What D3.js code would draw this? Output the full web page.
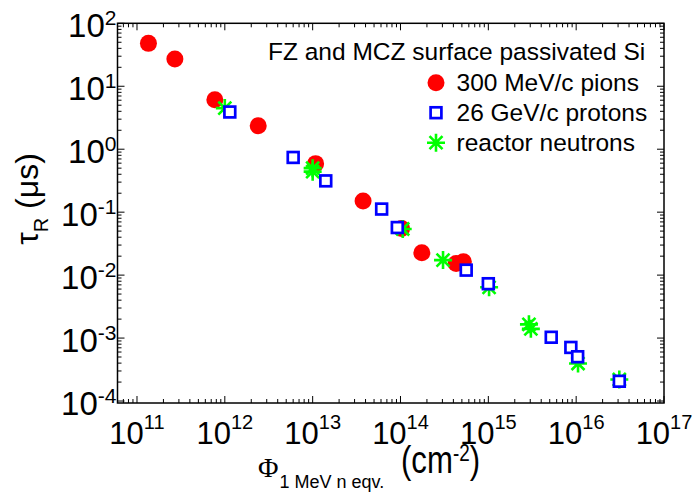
<!DOCTYPE html>
<html>
<head>
<meta charset="utf-8">
<script src="https://cdn.jsdelivr.net/npm/d3@7"></script>
<style>
  html, body { margin: 0; padding: 0; background: #fff; }
  svg { display: block; font-family: "Liberation Sans", Arial, Helvetica, sans-serif; }
</style>
</head>
<body>
<svg id="chart" width="695" height="495"></svg>
<script>
// ---- data ----
const pionsFluence = [1.35e11, 2.7e11, 7.7e11, 2.4e12, 1.08e13, 3.75e13, 1.03e14, 1.75e14, 4.3e14, 5.2e14];
const pionsTau     = [48, 27, 6.1, 2.35, 0.59, 0.151, 0.055, 0.0226, 0.0153, 0.0163];

const protonsFluence = [1.14e12, 6.0e12, 1.41e13, 6.1e13, 9.2e13, 5.6e14, 1.0e15, 5.2e15, 8.7e15, 1.04e16, 3.1e16];
const protonsTau     = [3.9, 0.74, 0.314, 0.112, 0.057, 0.012, 0.0073, 1.03e-3, 7.1e-4, 5.05e-4, 2.06e-4];

const neutronsFluence = [1.0e12, 1.0e13, 1.0e13, 1.06e14, 3.05e14, 1.02e15, 2.9e15, 3.05e15, 1.05e16, 3.1e16];
const neutronsTau     = [4.5, 0.5, 0.44, 0.054, 0.0173, 6.4e-3, 1.65e-3, 1.4e-3, 3.95e-4, 2.2e-4];

const xTickExponents = [11, 12, 13, 14, 15, 16, 17];
const yTickExponents = [-4, -3, -2, -1, 0, 1, 2];
const legendTitle = "FZ and MCZ surface passivated Si";
const legendLabels = ["300 MeV/c pions", "26 GeV/c protons", "reactor neutrons"];

// ---- layout ----
const svg = d3.select("#chart");
const L = 117.5, R = 664, T = 23.3, B = 403;
const x = d3.scaleLog().domain([6e10, 1e17]).range([L, R]);
const y = d3.scaleLog().domain([9.3e-5, 100]).range([B, T]);

const zip = (a, b) => a.map((v, i) => [v, b[i]]);
const pions = zip(pionsFluence, pionsTau);
const protons = zip(protonsFluence, protonsTau);
const neutrons = zip(neutronsFluence, neutronsTau);

// ---- ticks ----
function logTicks(domain) {
  const lo = Math.floor(Math.log10(domain[0])), hi = Math.ceil(Math.log10(domain[1]));
  const major = [], minor = [];
  for (let e = lo; e <= hi; e++) {
    for (let k = 1; k <= 9; k++) {
      const v = k * Math.pow(10, e);
      if (v < domain[0] * 0.999 || v > domain[1] * 1.001) continue;
      (k === 1 ? major : minor).push(v);
    }
  }
  return { major, minor };
}
const xt = logTicks(x.domain()), yt = logTicks(y.domain());
const majLen = 7, minLen = 4;
const tg = svg.append("g").attr("stroke", "#000").attr("stroke-width", 1);
function drawX(vals, len) {
  vals.forEach(v => {
    const px = x(v);
    tg.append("line").attr("x1", px).attr("x2", px).attr("y1", B).attr("y2", B - len);
    tg.append("line").attr("x1", px).attr("x2", px).attr("y1", T).attr("y2", T + len);
  });
}
function drawY(vals, len) {
  vals.forEach(v => {
    const py = y(v);
    tg.append("line").attr("y1", py).attr("y2", py).attr("x1", L).attr("x2", L + len);
    tg.append("line").attr("y1", py).attr("y2", py).attr("x1", R).attr("x2", R - len);
  });
}
drawX(xt.major, majLen); drawX(xt.minor, minLen);
drawY(yt.major, majLen); drawY(yt.minor, minLen);

svg.append("rect").attr("x", L).attr("y", T).attr("width", R - L).attr("height", B - T)
  .attr("fill", "none").attr("stroke", "#000").attr("stroke-width", 1.5);

// tick labels
xTickExponents.forEach(e => {
  const t = svg.append("text").attr("x", x(Math.pow(10, e))).attr("y", 443.5)
    .attr("text-anchor", "middle").attr("font-size", 31).attr("fill", "#000");
  t.append("tspan").text("10");
  t.append("tspan").attr("font-size", 20).attr("dy", -15).text(String(e));
});
yTickExponents.forEach(e => {
  const t = svg.append("text").attr("x", 116.5).attr("y", y(Math.pow(10, e)) + 13.5)
    .attr("text-anchor", "end").attr("font-size", 33).attr("fill", "#000");
  t.append("tspan").text("10");
  t.append("tspan").attr("font-size", 21).attr("dy", -12).text(String(e));
});

// axis labels
const xl = svg.append("text").attr("x", 258).attr("y", 477).attr("fill", "#000");
xl.append("tspan").attr("font-family", "'Liberation Serif', 'Times New Roman', serif").attr("font-size", 28).text("Φ");
xl.append("tspan").attr("font-size", 18).attr("dy", 11).attr("dx", 1).text("1 MeV n eqv.");

const xu = svg.append("text").attr("transform", "translate(401,473) scale(0.82,1)")
  .attr("font-size", 38).attr("fill", "#000");
xu.append("tspan").text("(cm");
xu.append("tspan").attr("font-size", 23).attr("dy", -12).text("-2");
xu.append("tspan").attr("dy", 12).text(")");

const yl = svg.append("text").attr("transform", "translate(38,199) rotate(-90)")
  .attr("text-anchor", "middle").attr("fill", "#000");
yl.append("tspan").attr("font-size", 32).text("τ");
yl.append("tspan").attr("font-size", 20).attr("dy", 10).text("R");
yl.append("tspan").attr("font-size", 32).attr("dy", -10).text(" (μs)");

// ---- markers ----
const plot = svg.append("g");
const starPath = "M-9,0H9M0,-9V9M-6.5,-6.5L6.5,6.5M-6.5,6.5L6.5,-6.5";

plot.selectAll("circle.pion").data(pions).join("circle").attr("class", "pion")
  .attr("cx", d => x(d[0])).attr("cy", d => y(d[1])).attr("r", 8.5).attr("fill", "#ff0000");

plot.selectAll("path.neutron").data(neutrons).join("path").attr("class", "neutron")
  .attr("transform", d => `translate(${x(d[0])},${y(d[1])})`).attr("d", starPath)
  .attr("stroke", "#00ff00").attr("stroke-width", 2.6).attr("fill", "none");

plot.selectAll("rect.proton").data(protons).join("rect").attr("class", "proton")
  .attr("x", d => x(d[0]) - 5.4).attr("y", d => y(d[1]) - 5.4).attr("width", 10.8).attr("height", 10.8)
  .attr("fill", "#fff").attr("stroke", "#0000ff").attr("stroke-width", 2.7);

// ---- legend ----
const lg = svg.append("g");
lg.append("text").attr("x", 268).attr("y", 60).attr("font-size", 24.5).attr("fill", "#000").text(legendTitle);
const ly = [82.7, 112.7, 142.7], lmx = 436;
lg.append("circle").attr("cx", lmx).attr("cy", ly[0]).attr("r", 8.5).attr("fill", "#ff0000");
lg.append("rect").attr("x", lmx - 5.4).attr("y", ly[1] - 5.4).attr("width", 10.8).attr("height", 10.8)
  .attr("fill", "#fff").attr("stroke", "#0000ff").attr("stroke-width", 2.7);
lg.append("path").attr("transform", `translate(${lmx},${ly[2]})`).attr("d", starPath)
  .attr("stroke", "#00ff00").attr("stroke-width", 2.6).attr("fill", "none");
legendLabels.forEach((s, i) => {
  lg.append("text").attr("x", 456.5).attr("y", ly[i] + 8).attr("font-size", 24.5).attr("fill", "#000").text(s);
});
</script>
</body>
</html>
